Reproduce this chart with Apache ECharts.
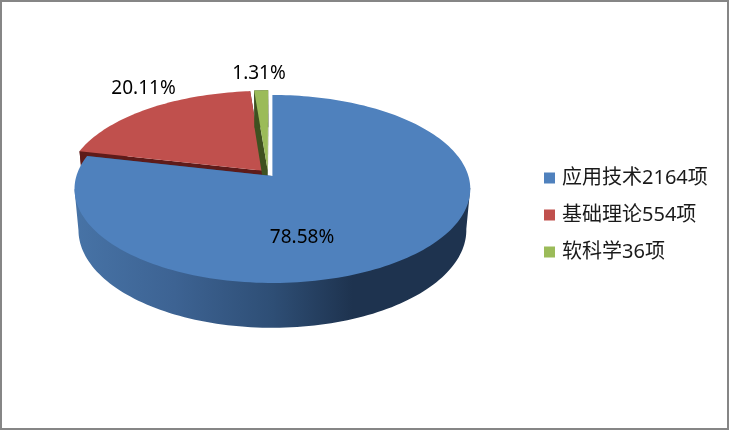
<!DOCTYPE html>
<html>
<head>
<meta charset="utf-8">
<title>项目类别分布</title>
<style>
    html, body { margin: 0; padding: 0; background: #fff; }
    #main { width: 729px; height: 430px; }
</style>
<script src="https://cdn.jsdelivr.net/npm/echarts@6/dist/echarts.min.js"></script>
</head>
<body>
<div id="main"></div>
<script>
var categories = ['应用技术', '基础理论', '软科学'];
var projects = [2164, 554, 36];
var percents = [78.58, 20.11, 1.31];

var topColors = ['#4f81bd', '#c0504d', '#9bbb59'];
var edgeColors = ['#2b4a70', '#5e1b1a', '#3f5120'];
var labelSpots = [[302, 238], [143.5, 89], [259, 74]];
var fontFamily = '"Noto Sans", "Noto Sans CJK SC", sans-serif';

// 透视参数，从图上量的
var view = { cx: 272.4, cy: 176, sx: 196, sy: 92.2, k: 0.138, depth: 40.5, bottomScale: 0.98, explode: 0.037 };

function project(u, v, bottom) {
    var w = 1 - view.k * v;
    var s = bottom ? view.bottomScale : 1;
    return [
        view.cx + view.sx * u / w * s,
        view.cy + (view.sy * v * s + (bottom ? view.depth : 0)) / w
    ];
}

function dir(deg) {
    var a = deg * Math.PI / 180;
    return [Math.sin(a), -Math.cos(a)];
}

function sliceAngles(index) {
    var start = 0;
    for (var i = 0; i < index; i++) {
        start += percents[i] * 3.6;
    }
    return [start, start + percents[index] * 3.6];
}

function sliceCenter(index) {
    // 第一块的尖点作为基准，其余块相对它分离
    var first = sliceAngles(0);
    var mine = sliceAngles(index);
    var d0 = dir((first[0] + first[1]) / 2);
    var d1 = dir((mine[0] + mine[1]) / 2);
    return [view.explode * (d1[0] - d0[0]), view.explode * (d1[1] - d0[1])];
}

function arcPoints(c, range, bottom) {
    var pts = [];
    var steps = Math.max(4, Math.ceil((range[1] - range[0]) / 1.5));
    for (var i = 0; i <= steps; i++) {
        var d = dir(range[0] + (range[1] - range[0]) * i / steps);
        pts.push(project(c[0] + d[0], c[1] + d[1], bottom));
    }
    return pts;
}

// 最左、最右点的下标，外壁的轮廓从这里切到上表面
function extremeIndex(pts, sign) {
    var best = 0;
    for (var i = 1; i < pts.length; i++) {
        if ((pts[i][0] - pts[best][0]) * sign > 0) {
            best = i;
        }
    }
    return best;
}

function wallPoints(topArc, bottomArc) {
    var a = extremeIndex(bottomArc, 1);
    var b = extremeIndex(bottomArc, -1);
    var from = Math.min(a, b), to = Math.max(a, b);
    var ta = extremeIndex(topArc, 1);
    var tb = extremeIndex(topArc, -1);
    var tFrom = Math.min(ta, tb), tTo = Math.max(ta, tb);
    return bottomArc.slice(from, to + 1).concat([topArc[tTo], topArc[tFrom]]);
}

function wallFill(index) {
    if (index !== 0) {
        return edgeColors[index];
    }
    return new echarts.graphic.LinearGradient(75, 0, 471, 0, [
        { offset: 0, color: '#4773a6' },
        { offset: 0.25, color: '#3d6393' },
        { offset: 0.5, color: '#2e4e75' },
        { offset: 0.7, color: '#1e334f' },
        { offset: 1, color: '#1e334f' }
    ], true);
}

function renderSlice(index) {
    return function (params, api) {
        var c = sliceCenter(index);
        var range = sliceAngles(index);
        var topArc = arcPoints(c, range, false);
        var bottomArc = arcPoints(c, range, true);
        var apexTop = project(c[0], c[1], false);
        var apexBottom = project(c[0], c[1], true);
        var first = topArc[0], firstB = bottomArc[0];
        var last = topArc[topArc.length - 1], lastB = bottomArc[bottomArc.length - 1];
        var edge = { fill: edgeColors[index] };
        return {
            type: 'group',
            children: [
                { type: 'polygon', shape: { points: [apexTop, last, lastB, apexBottom] }, style: edge },
                { type: 'polygon', shape: { points: [apexTop, first, firstB, apexBottom] }, style: edge },
                { type: 'polygon', shape: { points: wallPoints(topArc, bottomArc) }, style: { fill: wallFill(index) } },
                { type: 'polygon', shape: { points: [apexTop].concat(topArc) }, style: { fill: api.visual('color') } },
                {
                    type: 'text',
                    style: {
                        text: api.value(1).toFixed(2) + '%',
                        x: labelSpots[index][0],
                        y: labelSpots[index][1],
                        align: 'center',
                        verticalAlign: 'middle',
                        font: '19px ' + fontFamily,
                        fill: '#000'
                    }
                }
            ]
        };
    };
}

var legendNames = categories.map(function (name, i) {
    return name + projects[i] + '项';
});

var myChart = echarts.init(document.getElementById('main'));
var option = {
    animation: false,
    backgroundColor: '#fff',
    graphic: [{
        type: 'rect',
        silent: true,
        shape: { x: 1, y: 1, width: 727, height: 428 },
        style: { fill: 'none', stroke: '#868686', lineWidth: 2 }
    }],
    legend: {
        orient: 'vertical',
        left: 539,
        top: 159.5,
        itemWidth: 11,
        itemHeight: 11,
        itemGap: 10,
        icon: 'rect',
        data: legendNames,
        selectedMode: false,
        textStyle: { fontFamily: fontFamily, fontSize: 20, color: '#1a1a1a', padding: [0, 0, 0, 2], lineHeight: 27 }
    },
    series: legendNames.map(function (name, i) {
        return {
            name: name,
            type: 'custom',
            coordinateSystem: 'none',
            // 蓝色块压在最上面
            z: i === 0 ? 3 : 2,
            silent: true,
            itemStyle: { color: topColors[i] },
            encode: { value: [0, 1] },
            renderItem: renderSlice(i),
            data: [[projects[i], percents[i]]]
        };
    })
};
myChart.setOption(option);
</script>
</body>
</html>
